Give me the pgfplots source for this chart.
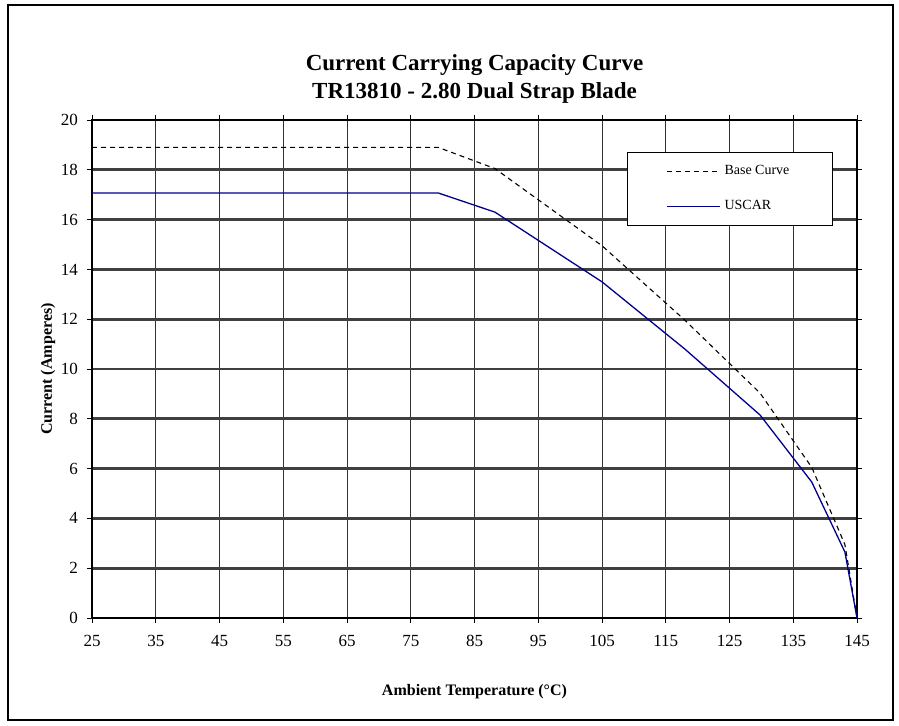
\documentclass[border=0pt]{standalone}
\usepackage{fontspec}
\setmainfont{Liberation Serif}
\usepackage{pgfplots}
\pgfplotsset{compat=1.18}
\definecolor{uscar}{RGB}{0,0,140}
\begin{document}
\begin{tikzpicture}
\useasboundingbox (0,0) rectangle (449.5pt,363pt);
\draw[line width=0.6pt] (4pt,3pt) rectangle (446.5pt,360.5pt);
\begin{axis}[
  at={(46pt,54pt)}, anchor=south west,
  scale only axis, width=382.5pt, height=249pt,
  xmin=25, xmax=145, ymin=0, ymax=20,
  xtick={25,35,...,145},
  ytick={2,4,...,20},
  extra y ticks={0},
  extra y tick style={ymajorgrids=false},
  tick align=outside, major tick length=2.5pt,
  tick style={black, line width=0.4pt},
  xmajorgrids, ymajorgrids,
  x grid style={black!80, line width=0.45pt},
  y grid style={black!75, line width=1.4pt},
  axis line style={black, line width=0.6pt},
  ticklabel style={font=\fontsize{8.5}{10}\selectfont},
  xticklabel style={yshift=-2.5pt},
  yticklabel style={xshift=-1pt},
  /pgf/number format/assume math mode=true,
  xlabel={Ambient Temperature (°C)},
  ylabel={Current (Amperes)},
  label style={font=\bfseries\fontsize{8}{10}\selectfont},
  xlabel style={yshift=-12pt},
  ylabel style={yshift=-9pt},
  title={Current Carrying Capacity Curve\\TR13810 - 2.80 Dual Strap Blade},
  title style={font=\bfseries\fontsize{11.5}{14}\selectfont, align=center, yshift=-1pt},
  legend style={at={(0.699,0.936)}, anchor=north west, draw=black, line width=0.5pt,
    font=\fontsize{7}{8}\selectfont, inner xsep=19.5pt, inner ysep=4.5pt, row sep=7.5pt,
    cells={anchor=west}},
  legend image code/.code={\draw[#1] (0pt,0pt) -- (26.5pt,0pt);},
]
\addplot[black, line width=0.55pt, dash pattern=on 2.5pt off 2pt] coordinates {
(25,18.9) (79.3,18.9) (88.2,18.05) (105,14.95) (118,11.96) (129.8,9.03) (137.9,6.05) (143.1,2.95) (145,0)};
\addlegendentry{Base Curve}
\addplot[uscar, line width=0.65pt] coordinates {
(25,17.07) (79.3,17.07) (88.2,16.3) (105,13.5) (118,10.8) (129.8,8.15) (137.9,5.46) (143.1,2.65) (145,0)};
\addlegendentry{USCAR}
\end{axis}
\end{tikzpicture}
\end{document}
